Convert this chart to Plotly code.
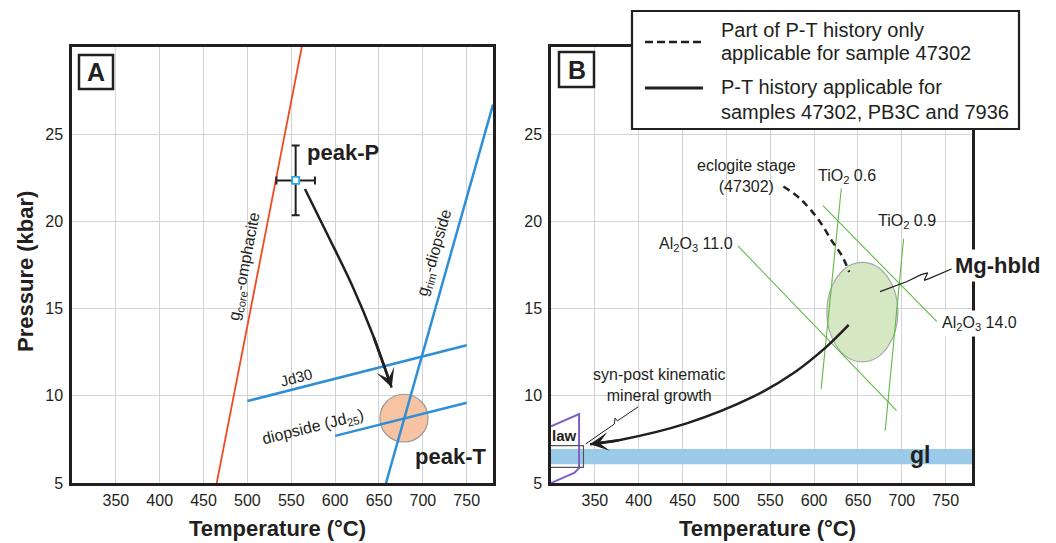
import plotly.graph_objects as go

W, H = 1056, 543
FONT = "Liberation Sans, Arial, Helvetica, sans-serif"
INK = "#231f20"

# ---------------- data ----------------
T_RANGE = [300, 780]
P_RANGE = [5, 30]
T_TICKS = [350, 400, 450, 500, 550, 600, 650, 700, 750]
P_TICKS = [5, 10, 15, 20, 25]

# Panel A
core_omph_T = [465, 562]
core_omph_P = [5, 30]
rim_diop_T = [658, 780]
rim_diop_P = [5, 26.7]
jd30_T = [500, 750]
jd30_P = [9.7, 12.9]
jd25_T = [600, 750]
jd25_P = [7.7, 9.6]
peakP_T = [555]
peakP_P = [22.35]
peakP_errT = [22]
peakP_errP = [2.0]
pathA_T = [565.6, 592.2, 618.9, 643.5, 664.5]
pathA_P = [21.86, 19.15, 16.38, 13.43, 10.47]
peakT_center = [678.5, 8.72]
peakT_radius = [27.4, 1.37]

# Panel B
tio2_06_T = [631, 608]
tio2_06_P = [21.9, 10.4]
tio2_09_T = [702, 681]
tio2_09_P = [19.0, 8.0]
al2o3_11_T = [513, 694]
al2o3_11_P = [18.6, 9.15]
al2o3_14_T = [610, 740]
al2o3_14_P = [20.9, 14.25]
eclog_T = [565, 584, 605, 620, 632, 640]
eclog_P = [22.0, 21.3, 20.1, 18.9, 18.0, 17.1]
pathB_T = [639.4, 614.3, 576.2, 530.6, 454.7, 378.7, 344.5]
pathB_P = [14.06, 12.82, 11.29, 9.95, 8.42, 7.47, 7.22]
hbld_center = [655, 14.8]
hbld_radius = [40.5, 2.85]
hbld_ptr_T = [675.1, 706.0, 722.0, 729.5, 725.5, 731.0, 758.6]
hbld_ptr_P = [15.97, 16.55, 16.95, 17.05, 16.62, 16.72, 17.31]
syn_ptr_T = [399.5, 375.6, 373.0, 372.2, 339.6]
syn_ptr_P = [9.37, 8.56, 8.72, 8.38, 7.24]
gl_band_P = [6.07, 6.95]
law_T = [300, 332, 332, 327, 300]
law_P = [8.25, 8.95, 5.85, 5.6, 5.0]
law_box_T = [294, 337]
law_box_P = [5.9, 7.14]


def px(x):
    return x / W


def py(y):
    return 1 - y / H


fig = go.Figure()

# ---- Panel A traces ----
fig.add_trace(go.Scatter(x=core_omph_T, y=core_omph_P, mode="lines",
                         line=dict(color="#ef4c23", width=1.8), xaxis="x", yaxis="y"))
for tx, ty in [(rim_diop_T, rim_diop_P), (jd30_T, jd30_P), (jd25_T, jd25_P)]:
    fig.add_trace(go.Scatter(x=tx, y=ty, mode="lines",
                             line=dict(color="#2e8fd6", width=2.5), xaxis="x", yaxis="y"))
fig.add_trace(go.Scatter(x=pathA_T, y=pathA_P, mode="lines", line_shape="spline",
                         line=dict(color=INK, width=2.5), xaxis="x", yaxis="y"))
fig.add_trace(go.Scatter(
    x=peakP_T, y=peakP_P, mode="markers", xaxis="x", yaxis="y",
    marker=dict(symbol="square", size=7, color="white", line=dict(color="#29abe2", width=1.8)),
    error_x=dict(type="data", array=peakP_errT, color=INK, thickness=2, width=4),
    error_y=dict(type="data", array=peakP_errP, color=INK, thickness=2, width=4),
))

# ---- Panel B traces ----
for tx, ty in [(tio2_06_T, tio2_06_P), (tio2_09_T, tio2_09_P),
               (al2o3_11_T, al2o3_11_P), (al2o3_14_T, al2o3_14_P)]:
    fig.add_trace(go.Scatter(x=tx, y=ty, mode="lines",
                             line=dict(color="#5dbb46", width=1.1), xaxis="x2", yaxis="y2"))
fig.add_trace(go.Scatter(x=eclog_T, y=eclog_P, mode="lines", line_shape="spline",
                         line=dict(color=INK, width=2.5, dash="7px,5px"), xaxis="x2", yaxis="y2"))
fig.add_trace(go.Scatter(x=pathB_T, y=pathB_P, mode="lines", line_shape="spline",
                         line=dict(color=INK, width=2.5), xaxis="x2", yaxis="y2"))
fig.add_trace(go.Scatter(x=hbld_ptr_T, y=hbld_ptr_P, mode="lines",
                         line=dict(color=INK, width=1.2), xaxis="x2", yaxis="y2"))
fig.add_trace(go.Scatter(x=syn_ptr_T, y=syn_ptr_P, mode="lines",
                         line=dict(color=INK, width=1.0), xaxis="x2", yaxis="y2"))
fig.add_trace(go.Scatter(x=law_T, y=law_P, mode="lines",
                         line=dict(color="#7f5fc4", width=2), xaxis="x2", yaxis="y2"))

shapes = []
shapes.append(dict(type="circle", xref="x", yref="y", layer="between",
                   x0=peakT_center[0] - peakT_radius[0], x1=peakT_center[0] + peakT_radius[0],
                   y0=peakT_center[1] - peakT_radius[1], y1=peakT_center[1] + peakT_radius[1],
                   fillcolor="#f7c3a3", line=dict(color="#9a9a9a", width=1.2)))
shapes.append(dict(type="circle", xref="x2", yref="y2", layer="between",
                   x0=hbld_center[0] - hbld_radius[0], x1=hbld_center[0] + hbld_radius[0],
                   y0=hbld_center[1] - hbld_radius[1], y1=hbld_center[1] + hbld_radius[1],
                   fillcolor="#d5e8c3", line=dict(color="#a8a8a8", width=1.2)))
shapes.append(dict(type="rect", xref="x2", yref="y2", layer="between",
                   x0=T_RANGE[0], x1=T_RANGE[1], y0=gl_band_P[0], y1=gl_band_P[1],
                   fillcolor="#9ccbe9", line=dict(width=0)))
shapes.append(dict(type="rect", xref="x2", yref="y2", layer="above",
                   x0=law_box_T[0], x1=law_box_T[1], y0=law_box_P[0], y1=law_box_P[1],
                   line=dict(color="#555555", width=1.2)))
# panel letter boxes
shapes.append(dict(type="rect", xref="paper", yref="paper", layer="above",
                   x0=px(79), x1=px(113), y0=py(89), y1=py(55),
                   fillcolor="white", line=dict(color=INK, width=2.5)))
shapes.append(dict(type="rect", xref="paper", yref="paper", layer="above",
                   x0=px(559), x1=px(594), y0=py(87), y1=py(52),
                   fillcolor="white", line=dict(color=INK, width=2.5)))
# legend box
shapes.append(dict(type="rect", xref="paper", yref="paper", layer="above",
                   x0=px(632), x1=px(1019), y0=py(129), y1=py(11),
                   fillcolor="white", line=dict(color=INK, width=2.2)))
shapes.append(dict(type="line", xref="paper", yref="paper", layer="above",
                   x0=px(645), x1=px(703), y0=py(42), y1=py(42),
                   line=dict(color=INK, width=2.5, dash="8px,4px")))
shapes.append(dict(type="line", xref="paper", yref="paper", layer="above",
                   x0=px(645), x1=px(703), y0=py(88), y1=py(88),
                   line=dict(color=INK, width=3)))

ann = []


def txt(x, y, s, size=16, bold=False, xref="x", yref="y", angle=0, xanchor="center",
        bg=None, align="center", pad=1):
    d = dict(x=x, y=y, xref=xref, yref=yref, text=("<b>%s</b>" % s) if bold else s,
             showarrow=False, textangle=angle, xanchor=xanchor, yanchor="middle", align=align,
             font=dict(family=FONT, size=size, color=INK), borderpad=pad)
    if bg:
        d["bgcolor"] = bg
    ann.append(d)


# Panel A labels
txt(497.2, 17.41, "g<sub>core</sub>-omphacite", 16, angle=-79)
txt(713.8, 18.21, "g<sub>rim</sub>-diopside", 16, angle=-74)
txt(555.4, 11.06, "Jd30", 15, angle=-14.5)
txt(574.7, 8.2, "diopside (Jd<sub>25</sub>)", 16, angle=-14)
txt(609, 23.93, "peak-P", 22, bold=True)
txt(731, 6.54, "peak-T", 22, bold=True)
txt(px(96), py(72), "A", 25, bold=True, xref="paper", yref="paper")

# Panel B labels
txt(523.4, 22.6, "eclogite stage<br>(47302)", 16, xref="x2", yref="y2")
txt(637.5, 22.6, "TiO<sub>2</sub> 0.6", 16, xref="x2", yref="y2")
txt(705.8, 19.98, "TiO<sub>2</sub> 0.9", 16, xref="x2", yref="y2")
txt(px(695.5), py(244.3), "Al<sub>2</sub>O<sub>3</sub> 11.0", 16, xref="paper", yref="paper")
txt(px(979.5), py(323), "Al<sub>2</sub>O<sub>3</sub> 14.0", 16, xref="paper", yref="paper",
    bg="white", pad=3)
txt(px(998), py(265), "Mg-hbld", 22, bold=True, xref="paper", yref="paper", bg="white", pad=3)
txt(423.7, 10.62, "syn-post kinematic<br>mineral growth", 16, xref="x2", yref="y2")
txt(315.2, 7.75, "law", 15, bold=True, xref="x2", yref="y2")
txt(720.7, 6.6, "gl", 23, bold=True, xref="x2", yref="y2")
txt(px(576.5), py(69.5), "B", 25, bold=True, xref="paper", yref="paper")

# legend text (centres of each line)
for xc, yc, s in [(822, 30, "Part of P-T history only"),
                  (846, 53.3, "applicable for sample 47302"),
                  (831, 87.3, "P-T history applicable for"),
                  (865, 111.7, "samples 47302, PB3C and 7936")]:
    txt(px(xc), py(yc), s, 20, xref="paper", yref="paper")

# axis titles
txt(px(277), py(528), "Temperature (°C)", 22, bold=True, xref="paper", yref="paper")
txt(px(767), py(528), "Temperature (°C)", 22, bold=True, xref="paper", yref="paper")
txt(px(25), py(272), "Pressure (kbar)", 22, bold=True, xref="paper", yref="paper", angle=-90)

# arrowheads
for xa, ya, tx, ty in [("x", "y", pathA_T, pathA_P), ("x2", "y2", pathB_T, pathB_P)]:
    ann.append(dict(x=tx[-1], y=ty[-1], ax=tx[-2], ay=ty[-2], xref=xa, yref=ya,
                    axref=xa, ayref=ya, text="", showarrow=True, arrowhead=3,
                    arrowsize=1.25, arrowwidth=2.5, arrowcolor=INK, standoff=0))

axis_common = dict(range=T_RANGE, tickvals=T_TICKS, showgrid=True, gridcolor="#d3d3d5",
                   gridwidth=1, zeroline=False, showline=True, mirror=True, linecolor=INK,
                   linewidth=2.5, ticks="outside", ticklen=1, tickcolor="rgba(0,0,0,0)",
                   tickfont=dict(family=FONT, size=16, color=INK), fixedrange=True,
                   automargin=False)
yaxis_common = dict(range=P_RANGE, tickvals=P_TICKS, showgrid=True, gridcolor="#d3d3d5",
                    gridwidth=1, zeroline=False, showline=True, mirror=True, linecolor=INK,
                    linewidth=2.5, ticks="outside", ticklen=3, tickcolor="rgba(0,0,0,0)",
                    tickfont=dict(family=FONT, size=16, color=INK), fixedrange=True,
                    automargin=False)

y_dom = [py(483), py(47)]
fig.update_layout(
    template="none",
    width=W, height=H, margin=dict(l=0, r=0, t=0, b=0, pad=0),
    paper_bgcolor="white", plot_bgcolor="white", showlegend=False,
    font=dict(family=FONT, color=INK),
    xaxis=dict(domain=[px(72), px(493)], anchor="y", **axis_common),
    yaxis=dict(domain=y_dom, anchor="x", **yaxis_common),
    xaxis2=dict(domain=[px(551), px(972)], anchor="y2", **axis_common),
    yaxis2=dict(domain=y_dom, anchor="x2", **yaxis_common),
    shapes=shapes, annotations=ann,
)

# remove the default page margin so the figure sits at the window's top-left corner
fig.write_html("out.html", config={"displayModeBar": False},
               post_script="document.body.style.margin='0';document.body.style.padding='0';")
